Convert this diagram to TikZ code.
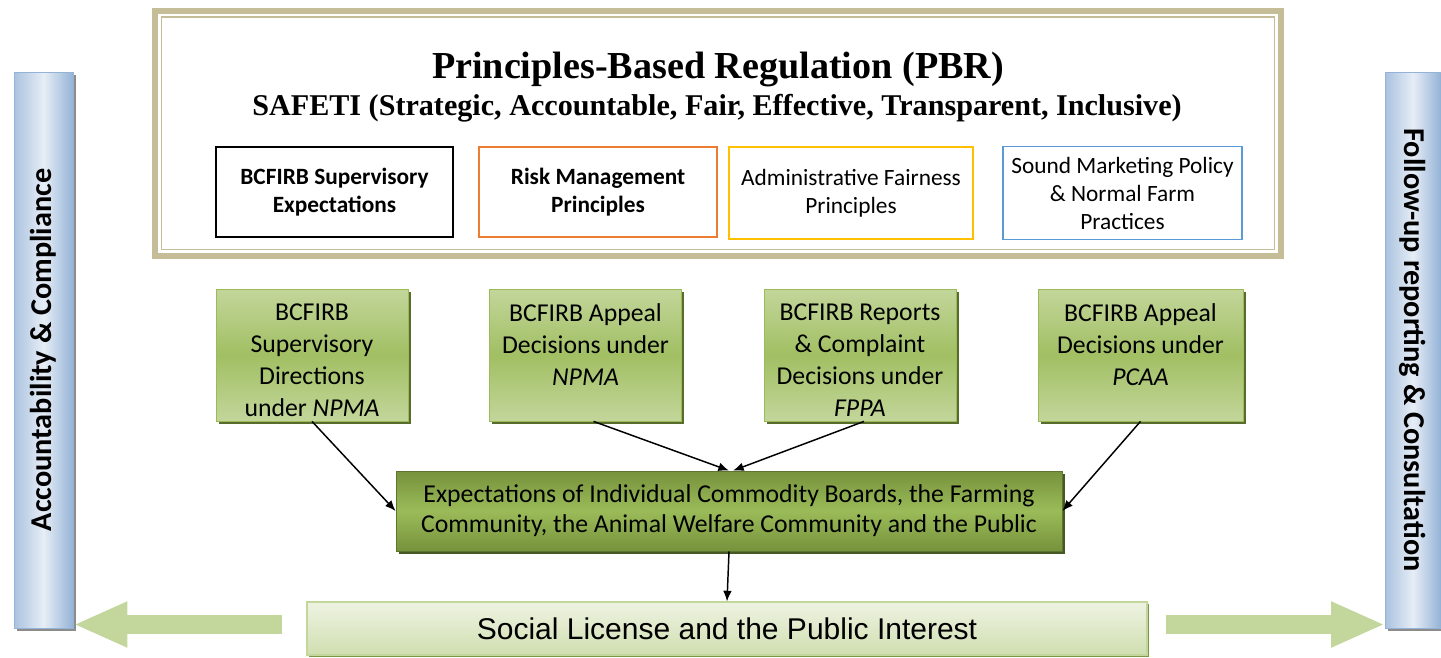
\documentclass[tikz,border=0pt]{standalone}
\usepackage{fontspec}
\setmainfont{Carlito}
\newfontfamily\pbrfont{Liberation Serif}
\newfontfamily\slfont{Liberation Sans}
\usetikzlibrary{arrows.meta,shadows,positioning}

\definecolor{tan}{RGB}{196,189,151}
\definecolor{lgreen}{RGB}{195,214,155}
\definecolor{mgreen}{RGB}{155,187,89}
\definecolor{dgreen}{RGB}{118,146,60}
\definecolor{pgreen}{RGB}{238,243,226}
\definecolor{lblue}{RGB}{220,230,242}
\definecolor{mblue}{RGB}{149,179,215}
\definecolor{orng}{RGB}{237,125,49}
\definecolor{gold}{RGB}{255,192,0}
\definecolor{sky}{RGB}{91,155,213}

\tikzset{
  pbox/.style={draw=#1, line width=1.1pt, fill=white, align=center,
    font=\fontsize{17.5}{21}\selectfont},
  gbox/.style={draw=mgreen, line width=0.6pt, top color=lgreen,
    bottom color=lgreen, middle color=mgreen!85!lgreen,
    minimum width=144pt, minimum height=99pt,
    drop shadow={shadow xshift=2.2pt, shadow yshift=-2.2pt,
      fill=dgreen!75!black, opacity=1}},
  gtext/.style={align=center, font=\fontsize{19.3}{24}\selectfont},
  sidebar/.style={draw=mblue, line width=0.6pt, left color=mblue!70!lblue,
    right color=mblue, middle color=lblue!70!white,
    minimum height=417pt,
    drop shadow={shadow xshift=2.2pt, shadow yshift=-2.2pt,
      fill=black!45, opacity=1}},
  sidetext/.style={font=\fontsize{22.7}{26}\selectfont\bfseries},
  link/.style={line width=1.1pt, -{Latex[length=8pt,width=6.5pt]}},
  fatarrow/.style={lgreen, line width=14.25pt,
    -{Triangle[length=40.5pt,width=31.5pt]}},
}

\begin{document}
\begin{tikzpicture}[x=0.75pt,y=-0.75pt]
\useasboundingbox (0,0) rectangle (1441,657);

% PBR frame
\draw[tan, line width=4.5pt] (155,11) rectangle (1281,256);
\draw[tan, line width=0.9pt] (161.5,17) rectangle (1274.5,249.5);

\node[font=\pbrfont\fontsize{28.6}{32}\selectfont\bfseries] (title) at (718,69)
  {Principles-Based Regulation (PBR)};
\node[font=\pbrfont\fontsize{22.6}{26}\selectfont\bfseries] (safeti) at (717,108)
  {SAFETI (Strategic, Accountable, Fair, Effective, Transparent, Inclusive)};

\node[pbox=black, minimum width=177.75pt, minimum height=67.5pt] (p1) at (334.5,192)
  {\bfseries BCFIRB Supervisory\\\bfseries Expectations};
\node[pbox=orng, minimum width=178.5pt, minimum height=67.5pt] (p2) at (598,192)
  {\bfseries Risk Management\\\bfseries Principles};
\node[pbox=gold, minimum width=183pt, minimum height=69pt] (p3) at (851,193)
  {Administrative Fairness\\Principles};
\node[pbox=sky, minimum width=179.25pt, minimum height=69.75pt] (p4) at (1122.5,193)
  {Sound Marketing Policy\\\& Normal Farm\\Practices};

% green decision boxes
\node[gbox] (g1) at (312,355) {};
\node[gbox] (g2) at (585.5,355) {};
\node[gbox] (g3) at (860,355) {};
\node[gbox, minimum width=153.75pt] (g4) at (1140.5,355) {};

\node[gtext, below=8pt of g1.north] (g1t)
  {BCFIRB\\Supervisory\\Directions\\under \textit{NPMA}};
\node[gtext, below=8pt of g2.north] (g2t)
  {BCFIRB Appeal\\Decisions under\\\textit{NPMA}};
\node[gtext, below=8pt of g3.north] (g3t)
  {BCFIRB Reports\\\& Complaint\\Decisions under\\\textit{FPPA}};
\node[gtext, below=8pt of g4.north] (g4t)
  {BCFIRB Appeal\\Decisions under\\\textit{PCAA}};

\node[draw=dgreen!80!black, line width=0.6pt, top color=dgreen, bottom color=dgreen,
  middle color=mgreen, minimum width=499.5pt, minimum height=60pt, align=center,
  font=\fontsize{19.3}{22.5}\selectfont,
  drop shadow={shadow xshift=2.2pt, shadow yshift=-2.2pt, fill=dgreen!60!black, opacity=1}]
  (expect) at (729,511)
  {Expectations of Individual Commodity Boards, the Farming\\
   Community, the Animal Welfare Community and the Public};

\node[draw=lgreen, line width=0.8pt, top color=pgreen, bottom color=lgreen!70!pgreen,
  minimum width=630pt, minimum height=39.75pt, font=\slfont\fontsize{22.5}{24}\selectfont,
  drop shadow={shadow xshift=1.5pt, shadow yshift=-1.5pt, fill=mgreen!80!black, opacity=1}]
  (social) at (727,628.5) {Social License and the Public Interest};

% side bars
\node[sidebar, minimum width=44.25pt] (acc) at (43.5,350) {};
\node[sidetext, rotate=90] (acct) at (acc.center) {Accountability \& Compliance};
\node[sidebar, minimum width=41.25pt] (fol) at (1413,350) {};
\node[sidetext, rotate=-90] (folt) at (fol.center) {Follow-up reporting \& Consultation};

% connectors
\draw[link] (g1.south) -- (expect.west);
\draw[link] ([xshift=6pt]g2.south) -- (expect.north);
\draw[link] ([xshift=3pt]g3.south) -- ([xshift=3pt]expect.north);
\draw[link] (g4.south) -- (expect.east);
\draw[link] (expect.south) -- (social.north);

\draw[fatarrow, shorten <=18pt] ([yshift=3pt]social.west) -- ([yshift=3pt]social.west -| acc.east);
\draw[fatarrow, shorten <=13.5pt] ([yshift=3pt]social.east) -- ([yshift=3pt]social.east -| fol.west);

\end{tikzpicture}
\end{document}
